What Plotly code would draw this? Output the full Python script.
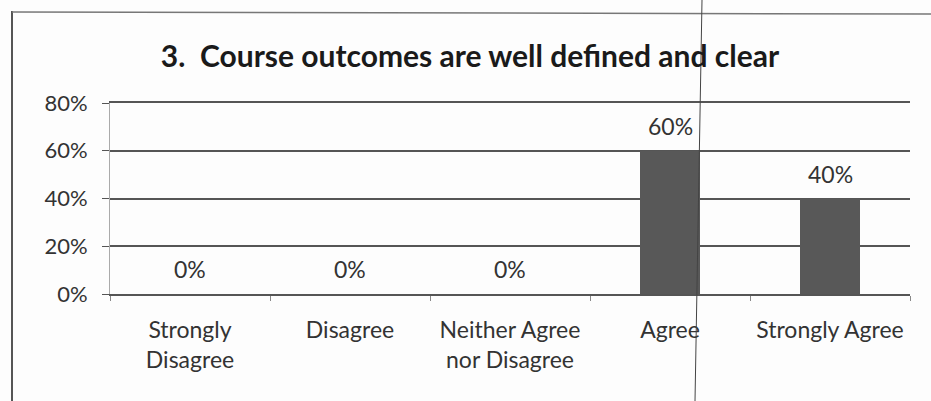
import plotly.graph_objects as go

categories = ["Strongly<br>Disagree", "Disagree", "Neither Agree<br>nor Disagree", "Agree", "Strongly Agree"]
values = [0, 0, 0, 60, 40]
value_labels = ["0%", "0%", "0%", "60%", "40%"]
y_ticks = [0, 20, 40, 60, 80]
y_tick_labels = ["0%", "20%", "40%", "60%", "80%"]
title = "3.  Course outcomes are well defined and clear"

W, H = 931, 401
L, R, T, B = 110, 21, 103, 107
pw, ph = W - L - R, H - T - B

def px(x):
    return (x - L) / pw

def py(y):
    return (H - B - y) / ph

font = "Lato, 'Open Sans', sans-serif"

fig = go.Figure()
fig.add_trace(go.Bar(
    x=categories, y=values,
    marker=dict(color="#585858", line=dict(width=0)),
    width=0.375, cliponaxis=False,
))
for c, v, t in zip(categories, values, value_labels):
    fig.add_annotation(x=c, y=v, text=t, showarrow=False, yanchor="middle", yshift=25,
                       font=dict(family=font, size=23, color="#333"))

fig.update_layout(
    width=W, height=H,
    margin=dict(l=L, r=R, t=T, b=B),
    paper_bgcolor="#fdfdfd", plot_bgcolor="#fdfdfd",
    showlegend=False,
    title=dict(text="<b>" + title + "</b>", x=470 / W, xref="container", xanchor="center",
               y=1 - 56 / H, yanchor="middle", yref="container",
               font=dict(family=font, size=30, color="#1a1a1a")),
    xaxis=dict(type="category", showgrid=False, ticks="outside", tickson="boundaries",
               ticklen=5, tickcolor="#888", showline=True, linecolor="#555", linewidth=1.5,
               mirror=True, ticklabelstandoff=15,
               tickfont=dict(family=font, size=23, color="#333")),
    yaxis=dict(range=[0, 80], tickvals=y_ticks, ticktext=y_tick_labels,
               showgrid=True, gridcolor="#555", gridwidth=1.5,
               ticks="outside", ticklen=7, tickcolor="#555",
               showline=True, linecolor="#aaa", linewidth=1, zeroline=False,
               ticklabelstandoff=10,
               tickfont=dict(family=font, size=22, color="#333")),
)

# scanned page border and fold line
fig.add_shape(type="line", xref="paper", yref="paper", x0=px(12), x1=px(12), y0=py(11), y1=py(401), line=dict(color="#555", width=2))
fig.add_shape(type="line", xref="paper", yref="paper", x0=px(12), x1=px(931), y0=py(12), y1=py(14), line=dict(color="#777", width=1.5))
fig.add_shape(type="line", xref="paper", yref="paper", x0=px(702), x1=px(695), y0=py(0), y1=py(401), line=dict(color="#444", width=1))

fig.write_html("out.html", config={"displayModeBar": False},
               post_script="document.body.style.margin='0';document.body.style.overflow='hidden';")
